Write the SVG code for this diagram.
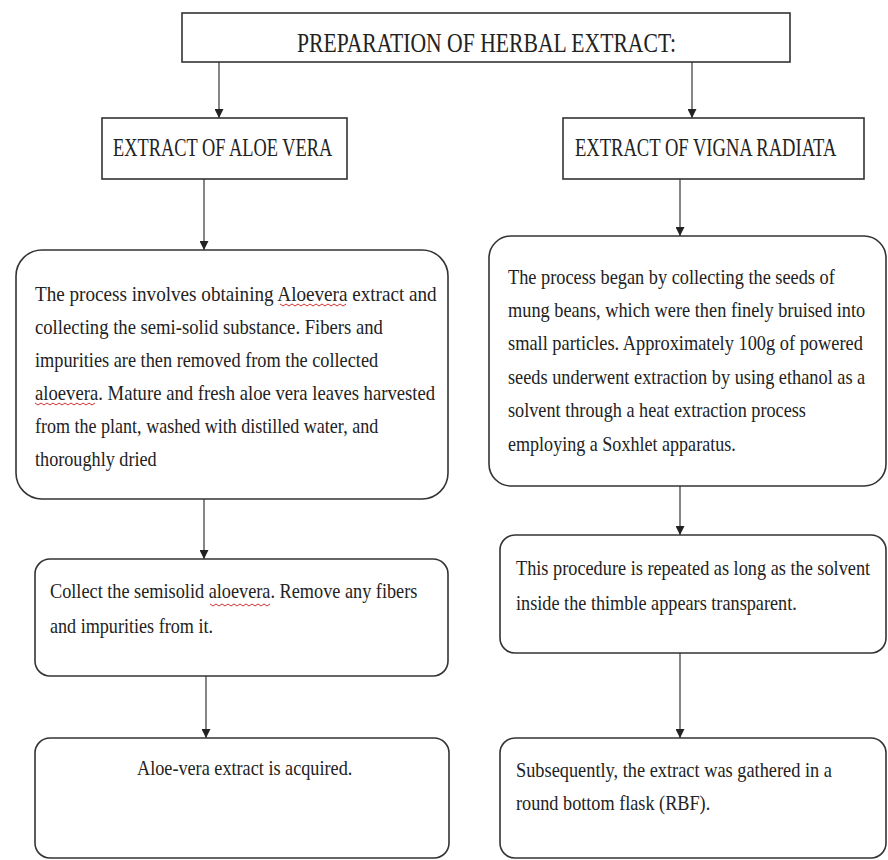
<svg xmlns="http://www.w3.org/2000/svg" width="888" height="860" viewBox="0 0 888 860">
<defs>
<style>
.box{fill:#fff;stroke:#333;stroke-width:1.6}
.t{font-family:"Liberation Serif","Times New Roman","DejaVu Serif",serif;fill:#222}
.hd{font-size:25px}
.ti{font-size:28px}
.bd{font-size:22px}
.con{stroke:#444;stroke-width:1.3;fill:none;marker-end:url(#ah)}
.sq{stroke:#d03030;stroke-width:1;fill:none}
</style>
<marker id="ah" viewBox="0 0 10 10" refX="10" refY="5" markerWidth="9" markerHeight="9" markerUnits="userSpaceOnUse" orient="auto">
<path d="M0,0 L10,5 L0,10 z" fill="#222"/>
</marker>
</defs>
<rect width="888" height="860" fill="#fff"/>

<g id="connectors">
<line class="con" x1="219" y1="62" x2="219" y2="118"/>
<line class="con" x1="692" y1="62" x2="692" y2="118"/>
<line class="con" x1="204" y1="179" x2="204" y2="250"/>
<line class="con" x1="680" y1="179" x2="680" y2="236"/>
<line class="con" x1="204" y1="499" x2="204" y2="559"/>
<line class="con" x1="206" y1="676" x2="206" y2="738"/>
<line class="con" x1="680" y1="486" x2="680" y2="535"/>
<line class="con" x1="680" y1="653" x2="680" y2="738"/>
</g>

<g id="title">
<rect class="box" x="182" y="13" width="608" height="49"/>
<text class="t ti" font-family="Liberation Serif, serif" transform="translate(297,52) scale(0.78,1)" textLength="486" lengthAdjust="spacingAndGlyphs">PREPARATION OF HERBAL EXTRACT:</text>
</g>

<g id="aloe-header">
<rect class="box" x="102" y="118" width="245" height="61"/>
<text class="t hd" font-family="Liberation Serif, serif" transform="translate(113,156) scale(0.78,1)" textLength="281" lengthAdjust="spacingAndGlyphs">EXTRACT OF ALOE VERA</text>
</g>

<g id="vigna-header">
<rect class="box" x="563" y="118" width="301" height="61"/>
<text class="t hd" font-family="Liberation Serif, serif" transform="translate(575,156) scale(0.78,1)" textLength="335" lengthAdjust="spacingAndGlyphs">EXTRACT OF VIGNA RADIATA</text>
</g>

<g id="aloe-process">
<rect class="box" x="16" y="250" width="432" height="249" rx="26" ry="26"/>
<text class="t bd" font-family="Liberation Serif, serif" transform="translate(35,301) scale(0.78,1)" textLength="515" lengthAdjust="spacingAndGlyphs">The process involves obtaining Aloevera extract and</text>
<text class="t bd" font-family="Liberation Serif, serif" transform="translate(35,334) scale(0.78,1)" textLength="446" lengthAdjust="spacingAndGlyphs">collecting the semi-solid substance. Fibers and</text>
<text class="t bd" font-family="Liberation Serif, serif" transform="translate(35,367) scale(0.78,1)" textLength="440" lengthAdjust="spacingAndGlyphs">impurities are then removed from the collected</text>
<text class="t bd" font-family="Liberation Serif, serif" transform="translate(35,400) scale(0.78,1)" textLength="513" lengthAdjust="spacingAndGlyphs">aloevera. Mature and fresh aloe vera leaves harvested</text>
<text class="t bd" font-family="Liberation Serif, serif" transform="translate(35,433) scale(0.78,1)" textLength="440" lengthAdjust="spacingAndGlyphs">from the plant, washed with distilled water, and</text>
<text class="t bd" font-family="Liberation Serif, serif" transform="translate(35,466) scale(0.78,1)" textLength="156" lengthAdjust="spacingAndGlyphs">thoroughly dried</text>
<path class="sq" d="M280,304 l3,2 l3,-2 l3,2 l3,-2 l3,2 l3,-2 l3,2 l3,-2 l3,2 l3,-2 l3,2 l3,-2 l3,2 l3,-2 l3,2 l3,-2 l3,2 l3,-2 l3,2 l3,-2 l3,2 l3,-2"/>
<path class="sq" d="M35,403 l3,2 l3,-2 l3,2 l3,-2 l3,2 l3,-2 l3,2 l3,-2 l3,2 l3,-2 l3,2 l3,-2 l3,2 l3,-2 l3,2 l3,-2 l3,2 l3,-2 l3,2 l3,-2"/>
</g>

<g id="vigna-process">
<rect class="box" x="489" y="236" width="397" height="250" rx="22" ry="22"/>
<text class="t bd" font-family="Liberation Serif, serif" transform="translate(508,284) scale(0.78,1)" textLength="419" lengthAdjust="spacingAndGlyphs">The process began by collecting the seeds of</text>
<text class="t bd" font-family="Liberation Serif, serif" transform="translate(508,317) scale(0.78,1)" textLength="458" lengthAdjust="spacingAndGlyphs">mung beans, which were then finely bruised into</text>
<text class="t bd" font-family="Liberation Serif, serif" transform="translate(508,350) scale(0.78,1)" textLength="455" lengthAdjust="spacingAndGlyphs">small particles. Approximately 100g of powered</text>
<text class="t bd" font-family="Liberation Serif, serif" transform="translate(508,384) scale(0.78,1)" textLength="458" lengthAdjust="spacingAndGlyphs">seeds underwent extraction by using ethanol as a</text>
<text class="t bd" font-family="Liberation Serif, serif" transform="translate(508,417) scale(0.78,1)" textLength="382" lengthAdjust="spacingAndGlyphs">solvent through a heat extraction process</text>
<text class="t bd" font-family="Liberation Serif, serif" transform="translate(508,451) scale(0.78,1)" textLength="292" lengthAdjust="spacingAndGlyphs">employing a Soxhlet apparatus.</text>
</g>

<g id="aloe-collect">
<rect class="box" x="35" y="559" width="413" height="117" rx="15" ry="15"/>
<text class="t bd" font-family="Liberation Serif, serif" transform="translate(50,598) scale(0.78,1)" textLength="471" lengthAdjust="spacingAndGlyphs">Collect the semisolid aloevera. Remove any fibers</text>
<text class="t bd" font-family="Liberation Serif, serif" transform="translate(50,633) scale(0.78,1)" textLength="209" lengthAdjust="spacingAndGlyphs">and impurities from it.</text>
<path class="sq" d="M210,604 l3,2 l3,-2 l3,2 l3,-2 l3,2 l3,-2 l3,2 l3,-2 l3,2 l3,-2 l3,2 l3,-2 l3,2 l3,-2 l3,2 l3,-2 l3,2 l3,-2 l3,2 l3,-2"/>
</g>

<g id="aloe-result">
<rect class="box" x="35" y="738" width="414" height="120" rx="15" ry="15"/>
<text class="t bd" font-family="Liberation Serif, serif" transform="translate(137,775) scale(0.78,1)" textLength="276" lengthAdjust="spacingAndGlyphs">Aloe-vera extract is acquired.</text>
</g>

<g id="vigna-repeat">
<rect class="box" x="500" y="535" width="386" height="118" rx="15" ry="15"/>
<text class="t bd" font-family="Liberation Serif, serif" transform="translate(516,575) scale(0.78,1)" textLength="454" lengthAdjust="spacingAndGlyphs">This procedure is repeated as long as the solvent</text>
<text class="t bd" font-family="Liberation Serif, serif" transform="translate(516,610) scale(0.78,1)" textLength="360" lengthAdjust="spacingAndGlyphs">inside the thimble appears transparent.</text>
</g>

<g id="vigna-result">
<rect class="box" x="500" y="738" width="386" height="120" rx="15" ry="15"/>
<text class="t bd" font-family="Liberation Serif, serif" transform="translate(516,777) scale(0.78,1)" textLength="405" lengthAdjust="spacingAndGlyphs">Subsequently, the extract was gathered in a</text>
<text class="t bd" font-family="Liberation Serif, serif" transform="translate(516,810) scale(0.78,1)" textLength="249" lengthAdjust="spacingAndGlyphs">round bottom flask (RBF).</text>
</g>
</svg>
